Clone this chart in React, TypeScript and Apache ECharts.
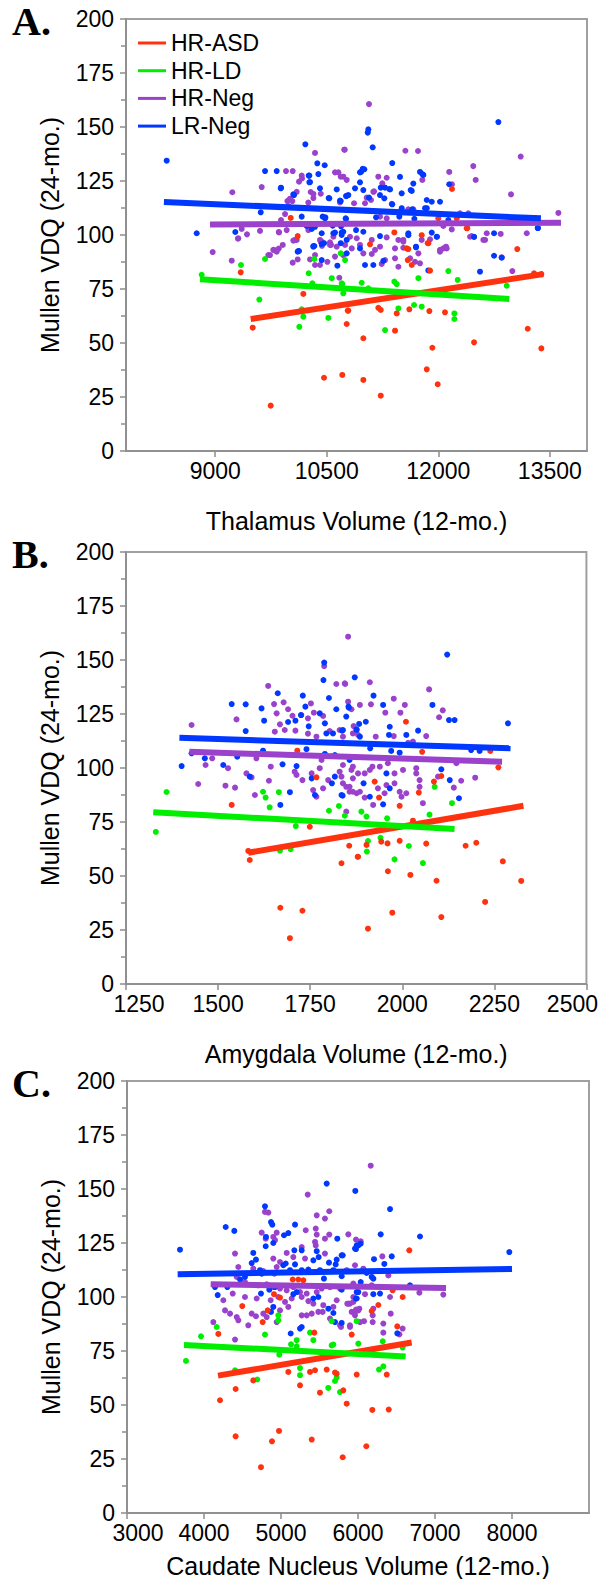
import React, { useEffect, useRef } from "react";
import * as echarts from "echarts";

const FONT = "'Liberation Sans', Arial, Helvetica, sans-serif";
const GROUPS = ["HR-ASD", "HR-LD", "HR-Neg", "LR-Neg"];
const COLORS = ["#ff3210", "#00ee00", "#9a42cc", "#0038ff"];
const Y_TICKS_MAX = 200;

// ---------- Panel A: Thalamus ----------
const aXTicks = [9000, 10500, 12000, 13500];
const aASD = [[10015,107.9],[10109,99.5],[9343,82.7],[10185,72.7],[9504,57.1],[10782,65],[10768,58.8],[10463,33.9],[10709,35.2],[9746,21],[12184,121.3],[13062,93.5],[13288,82.3],[13386,81.9],[12390,103.2],[12000,107.7],[12248,107.7],[11889,83.5],[11858,96.2],[11575,93.8],[11643,86.1],[11589,88.4],[11082,95.7],[11409,101.2],[10790,65],[10992,52.2],[11193,66.3],[11226,65.3],[11441,63.7],[11418,55.7],[11611,65.6],[11880,64.8],[12090,64.2],[11920,47.8],[11845,37.8],[11992,30.9],[12481,50.3],[13203,56.6],[13386,47.5],[10992,32.9],[11226,25.6],[12382,103.1],[11777,99.9],[11866,96.2],[11597,93.5]];
const aLD = [[9670,88.9],[10333,88.9],[10688,91.5],[9347,86.1],[8818,81.6],[10257,82.3],[10306,77.6],[10567,80],[10708,77.3],[10723,73],[9593,70.1],[10163,65.6],[10185,62.2],[10131,57.5],[10521,61.6],[12135,83.3],[12261,79.2],[11732,80],[11409,78.4],[11441,77.3],[10746,88.4],[10701,77.6],[10970,77.9],[11059,75.3],[11674,67.6],[11777,66.8],[11463,66],[11284,56],[12216,63.7],[12216,61.1],[12920,76.5]];
const aNeg = [[9952,129.6],[10042,129.6],[9230,119.8],[9625,122.2],[9970,115.7],[10006,116.8],[9427,100.3],[9306,98.3],[9602,101.9],[9854,101.4],[8966,92.1],[9795,93],[9854,93.7],[9908,95.4],[10342,138],[10741,139.5],[10167,126.2],[10611,129],[10656,129],[10688,127],[10284,119.9],[10320,117.1],[10419,119.1],[10037,115.7],[9983,113.4],[9939,109.7],[9885,106.9],[9310,98.5],[9356,102.8],[9858,101.2],[10050,97.4],[10096,97.7],[10409,97.7],[10436,95],[10544,96.6],[9222,88.1],[9737,90.7],[9781,93.1],[9827,92.3],[10042,87.2],[10109,88.7],[10275,88.7],[10342,90.7],[10342,86.1],[10409,86.1],[10508,87.6],[10419,96.9],[10557,95.4],[10669,80.2],[9714,90.7],[11068,160.6],[10736,139.5],[13108,136.3],[11557,139],[11727,138.9],[10723,127],[10768,125.5],[11306,126.5],[11193,127],[11247,123.9],[12470,131.9],[12503,125.5],[12147,129.2],[12184,123.5],[12978,118.8],[11785,125.5],[11126,120],[11037,117.3],[13615,110.2],[13190,100.8],[12996,83.3],[12652,100.8],[12629,97.7],[12427,99.2],[12481,99.2],[12839,100.5],[12068,93.8],[12104,94.6],[12023,92.3],[11463,97.7],[11530,97.7],[11530,94.1],[11732,91.5],[11754,86.9],[11687,87.6],[11620,89.2],[11284,88.4],[11239,86.6],[11418,89.2],[11463,85.3],[10992,91.5],[11105,91.2],[11216,94.6],[11149,93.1],[10903,98.5],[10813,99.2],[10836,93.8],[10746,95.4],[10634,94.6],[10589,99.2],[10723,90.7],[10611,90],[10127,124.7],[10163,127.5],[11136,120.2],[9992,116.2],[10096,120],[10320,119],[10252,115],[10678,115.1],[10867,114.7],[11014,114.7],[11095,116.2],[11216,108.5],[11306,107.7],[11374,114.4],[11597,111.9],[11664,111.9],[12292,110],[12404,110],[12181,102.6],[12068,104.2],[12023,93.1],[12113,93.8],[12606,97.7],[12853,89.7],[12449,99.5],[11889,98],[11777,97.7],[11530,96.9],[11418,93.8],[11306,98.9],[11105,97.7],[10947,95.4],[10544,95.4],[10432,96.9],[10073,97.7],[10252,102.3],[9961,102.3]];
const aLR = [[8347,134.4],[9670,129.6],[9827,129.6],[9885,121.9],[10050,118.8],[9612,110.5],[8751,100.8],[9270,101.4],[10109,92.3],[10212,142],[10373,133.2],[10472,132.3],[10257,127.5],[10275,124.5],[9881,121.6],[10409,121.6],[10759,118],[10634,121.1],[10526,117.1],[10060,118.5],[10163,108.5],[10230,104.2],[10342,103.8],[10445,108.5],[10481,108.2],[10580,104.3],[10692,104],[10755,107.7],[10320,94.9],[10463,96.2],[10589,100.8],[10701,100],[10768,97.7],[10127,92.6],[10333,94.9],[10432,95.8],[10432,88.4],[10643,85.8],[10688,96.2],[10768,91.5],[11059,148.9],[11051,147.4],[11118,140.6],[12808,152.3],[11381,133.3],[10961,129.2],[11005,130.4],[11754,129.2],[11785,128.2],[11485,126.9],[11664,123.8],[11643,120.4],[12147,123.5],[10880,121.6],[10992,120.8],[10790,118.5],[10678,115.9],[11216,118.5],[11341,121.3],[11284,121.9],[11845,116.2],[11912,115.4],[12023,115.4],[11822,112.4],[11651,111.9],[11508,112.4],[13341,103.2],[12750,90.4],[12853,89.5],[12561,83],[10701,101.1],[10947,93.8],[11014,86.1],[11261,88],[11126,86.1],[11700,94.6],[11597,100.8],[11979,99.2],[11866,83.6],[10266,127.5],[10266,124.4],[10387,128.2],[10947,129],[10983,130.6],[10947,124.4],[11799,127.8],[11629,120.8],[10534,117],[10688,115.7],[10773,118.2],[11068,117.3],[11226,121.9],[11351,121.1],[11274,117],[11381,114.2],[11508,119.3],[12135,106.9],[11845,112.4],[11678,107.5],[11476,108.5],[11163,108.2],[10759,107.4],[10477,107.7],[13337,103.2],[12750,100.8],[12481,99.1],[11982,99.2],[11912,101.1],[11700,94.3],[11597,99.9],[11216,99.5],[10992,101.5],[10894,102.3],[10723,101.5],[10611,101.1],[10432,100.8],[10298,102.8],[10118,92.6],[10320,94.6]];
const aFitASD = [[9477,61.1],[13413,81.9]];
const aFitLD = [[8795,79.5],[12955,70.4]];
const aFitNeg = [[8930,104.9],[13650,105.7]];
const aFitLR = [[8310,115.3],[13380,107.7]];

// ---------- Panel B: Amygdala ----------
const bASD = [[1537,82.9],[1715,108],[1767,95.7],[1749,72.8],[1582,61.6],[1586,57.4],[1856,64],[1835,55.9],[1879,58.9],[1669,35.3],[1729,33.9],[1695,21.2],[2010,121.4],[2054,107.5],[2239,107.9],[2261,100.3],[1925,93.7],[1937,86.3],[1993,82.5],[2045,88.6],[2086,93.7],[2106,96.3],[2029,75.6],[1903,64.4],[1943,65.9],[1960,65.1],[1993,66.3],[2065,65],[2172,64],[2201,65.4],[2273,56.8],[2323,47.7],[2225,38],[2106,31],[1973,33],[1907,25.6],[1961,52.2],[2022,50.5],[2093,47.8],[1880,58.9]];
const bLD = [[1360,88.9],[1331,70.4],[1622,89],[1629,86.3],[1640,81.8],[1665,88.8],[1801,80.2],[1828,82.4],[1844,77.9],[1711,73.1],[1668,61.7],[1697,62.4],[2088,91.3],[2135,83.7],[2074,78.4],[1959,76.7],[1889,79.8],[1903,77.5],[1907,66.2],[1941,67.7],[1904,61.3],[2018,63.9],[1979,57.7],[2056,56]];
const bNeg = [[1788,147.2],[1821,138.9],[1845,138.9],[1636,138],[1853,130.7],[1652,129.6],[1678,130.4],[1752,129.9],[1760,125.6],[1659,125.3],[1690,127.2],[1702,124.2],[1726,124.5],[1744,123],[1785,124.1],[1550,122.5],[1428,119.9],[1668,120.2],[1681,117.6],[1654,116.8],[1710,117.3],[1744,115.9],[1767,114.5],[1803,117.1],[1830,117.6],[1839,114.5],[1866,116],[1880,115.3],[1466,101.4],[1484,104.5],[1446,92.6],[1520,91.8],[1546,90.9],[1527,99.9],[1577,97.5],[1591,95.7],[1600,87.5],[1604,104.5],[1638,94.1],[1643,100.6],[1708,98.3],[1713,96.8],[1729,94.4],[1754,97.5],[1776,99.9],[1781,103.7],[1830,98.3],[1835,96],[1862,99.1],[1866,95.2],[1758,89.8],[1767,86.7],[1785,90.6],[1799,94.4],[1848,91.3],[1857,89],[1876,88.3],[1853,160.8],[1844,139.2],[1912,139.7],[2073,136.4],[1862,127.2],[1885,129.2],[1915,129.5],[1954,125.6],[1977,132.1],[1995,125.6],[2007,129.2],[2100,123.5],[2110,126.7],[1868,119.4],[1928,114.5],[1977,114.8],[2065,114.8],[2029,112.2],[2016,111.7],[1839,101.4],[1866,100.6],[1880,97.5],[1898,97.5],[1912,99.1],[1919,100.6],[1939,100.6],[1961,102.2],[1979,97.5],[2002,99.1],[2038,99.9],[2047,94.4],[2047,91.3],[2038,97.5],[2097,96],[2140,90.9],[2160,94.1],[2198,95.5],[2147,102.2],[1839,92.9],[1866,89],[1885,89],[1857,91.3],[1898,86.3],[1921,82.9],[1934,90.6],[1952,88.3],[1957,92.1],[1979,92.9],[1993,89],[1998,86.7],[2011,88.3],[2056,83.7],[1848,79.8]];
const bLR = [[1788,148.8],[1786,140.7],[1871,142],[1662,134.6],[1730,133.5],[1801,132.4],[1537,129.6],[1575,129.5],[1737,128.4],[1618,127.6],[1821,127.2],[1854,128.4],[1625,121.9],[1575,117.1],[1690,121.3],[1710,121.9],[1725,124.5],[1746,119.3],[1776,125.3],[1790,120.7],[1794,116],[1812,116],[1837,117.3],[1876,117.9],[1428,106.8],[1464,104.5],[1401,100.9],[1514,101.4],[1552,105.2],[1622,108],[1675,101.7],[1713,100.9],[1740,108.7],[1790,106.5],[1817,106],[1857,103.7],[1586,96],[1754,95.2],[1763,87.5],[1817,96],[1809,92.9],[1838,87.2],[1669,82.9],[1695,88.8],[2122,152.5],[1922,133.5],[1848,123.8],[1855,127.9],[1948,129.2],[2082,129.2],[2127,122.2],[2142,122.2],[2287,120.7],[1839,117.6],[1876,117.6],[1883,120.4],[1901,121.4],[1885,114.5],[1964,115.3],[2011,115.3],[2043,117.3],[1966,119.1],[1913,109.1],[1970,107.9],[1993,107.1],[2187,108.3],[2210,107.9],[1835,87.5],[1912,86.7],[1948,83.2],[1966,90.6],[1957,97.5],[2106,99.4],[2129,94.4],[2154,86],[1895,92.9]];
const bFitASD = [[1582,60.8],[2329,82.5]];
const bFitLD = [[1324,79.5],[2142,71.8]];
const bFitNeg = [[1422,107.5],[2271,102.9]];
const bFitLR = [[1395,114],[2294,109.1]];

// ---------- Panel C: Caudate ----------
const cASD = [[5152,108.1],[5225,108.1],[5290,107.7],[4909,101.3],[4987,99.7],[4827,93.8],[4762,88.4],[4497,95.8],[4186,82.9],[5433,83.5],[5918,82.6],[4411,57.4],[4208,52.2],[4640,61.4],[5095,65.3],[5247,59.1],[5377,65.3],[5442,66.1],[5593,66.4],[5701,65],[5723,64.5],[5506,55.7],[5809,56.8],[5853,50.6],[5983,64.1],[4974,38],[4883,33.2],[4411,35.5],[5399,34],[4740,21.2],[5801,25.8],[6666,121.6],[6450,103.1],[6580,100],[6264,96.3],[6178,93.5],[6510,86.4],[6186,47.7],[6399,47.9],[6373,64.1],[6108,30.9]];
const cLD = [[3961,81.8],[4165,86.1],[3766,70.4],[4792,82.6],[4965,91.5],[4965,89.2],[5130,78.1],[5204,80],[5204,77.2],[4978,73.3],[5420,80],[5377,83.5],[5658,77.6],[5680,78],[5658,88.8],[5983,88.8],[5247,67.1],[5247,63.8],[4692,61.8],[4403,66.1],[5701,61.1],[5723,62.7],[5614,57.9],[5766,56],[6004,78.4],[6321,79.5],[6580,76.6],[6273,66.4],[6329,67.9]];
const cNeg = [[5347,147.4],[4792,139.4],[4835,139.1],[5627,139.7],[5571,136.3],[5464,137.8],[4749,129.8],[4801,127],[4900,127.8],[4922,126.3],[4944,129.8],[5321,130.9],[5451,131.7],[5464,128.9],[5442,125.5],[5451,123.9],[5571,127],[5627,128.9],[5571,120.1],[4403,120.1],[4446,113.9],[5074,120.4],[5269,123.1],[5160,118.5],[5312,117.8],[4900,117.8],[4987,116.2],[4944,113.9],[4913,110.8],[4640,113.1],[4770,112],[4425,109.3],[4532,106.9],[4705,105.4],[4814,105.9],[4900,104.6],[4987,103.9],[5074,103.1],[5160,104.6],[5247,102.3],[5334,101.6],[5464,102.3],[5528,103.9],[5636,104.6],[5766,103.9],[5939,105.4],[4373,101.6],[4251,98.5],[4532,100],[4684,99.3],[4866,98.5],[4965,100],[5052,97.7],[5139,99.3],[5269,100],[5355,98.1],[5420,96.9],[5549,96.2],[5680,95.4],[5874,96.9],[5939,100],[4273,93.8],[4338,92.3],[4425,90.7],[4446,89.2],[4619,92.3],[4675,91.1],[4770,92.3],[4814,90.7],[4575,86.9],[4121,88.4],[4403,80.3],[4944,88.4],[4987,93.8],[5095,95.4],[5269,91.5],[5334,91.5],[5399,92.3],[5485,93.1],[5541,93.1],[5636,90],[5723,98.5],[5766,86.9],[5896,86.9],[5896,96.9],[5961,93.1],[6004,93.8],[6165,160.8],[5874,129],[5974,126.6],[6035,125.8],[6316,118.8],[5961,114.7],[6069,113.1],[5853,112.4],[6394,110],[5939,106.2],[6178,105.4],[6091,101.3],[6416,100],[6797,102],[7108,101.1],[5861,96.9],[5939,97.7],[5918,93.1],[5974,94.2],[6017,94.6],[5961,91.5],[6026,88.4],[6078,88.8],[6191,88.4],[6191,91.5],[6425,92.3],[6329,87.7],[6329,83.5],[6537,82.7],[6580,85.4],[5779,86.1],[5896,86.1],[6199,94.6]];
const cLR = [[5593,152.5],[5965,149.1],[4792,142],[4870,134.7],[4887,133.5],[4282,132.4],[4394,130.6],[4805,127.8],[4801,123.5],[4900,125],[5039,128.6],[5095,129.6],[5182,133.5],[5269,121.6],[5173,121.6],[5731,127],[5983,123.9],[5961,122.4],[5788,119.3],[5723,117.3],[5623,115.9],[5710,115.1],[5489,118.5],[5464,121.2],[3688,121.9],[4640,120.4],[4675,117.3],[4619,115.7],[4727,112.4],[4468,108.1],[4532,109.3],[4749,110.8],[5030,114.7],[5061,115.5],[5182,115.1],[5117,112.4],[5269,112.4],[5355,112.7],[5420,117],[5506,112.4],[5558,108.5],[5680,112.4],[5788,109.6],[4143,104.6],[4303,104.6],[4178,100.9],[4740,101.6],[4848,103.4],[4922,104.6],[5160,101.3],[5204,102.3],[5420,99.3],[5485,100],[5615,94.6],[5680,92.6],[5788,88],[5701,88.4],[4900,95.4],[4870,93.1],[5269,86.1],[5247,85.4],[5126,83.1],[5983,102.3],[5974,99.3],[6416,140.7],[6295,129],[6805,128],[5974,122.2],[6004,123.9],[6035,124.7],[7965,120.8],[5801,119.3],[6208,117.5],[6438,118.8],[6342,115.3],[6113,111.1],[6178,109.3],[6199,108.5],[6035,106.9],[5788,103.4],[6004,102.3],[6199,101.3],[6286,101.6],[6675,105.4],[5983,99.3],[6510,83.2]];
const cFitASD = [[4182,63.6],[6697,78.9]];
const cFitLD = [[3740,77.8],[6619,72.5]];
const cFitNeg = [[4087,105.9],[7143,104.2]];
const cFitLR = [[3658,110.5],[8000,113]];

const PANELS = [
  {
    letter: "A.", top: 19, left: 126, width: 461, xMin: 7800, xMax: 14000, xInterval: null, xTicks: aXTicks,
    xName: "Thalamus Volume (12-mo.)", nameGap: 57,
    points: [aASD, aLD, aNeg, aLR], fits: [aFitASD, aFitLD, aFitNeg, aFitLR],
    shift: {},
  },
  {
    letter: "B.", top: 552, left: 126, width: 461, xMin: 1250, xMax: 2500, xInterval: 250, xTicks: null,
    xName: "Amygdala Volume (12-mo.)", nameGap: 57,
    points: [bASD, bLD, bNeg, bLR], fits: [bFitASD, bFitLD, bFitNeg, bFitLR],
    shift: { 1250: "l", 2500: "r" },
  },
  {
    letter: "C.", top: 1081, left: 127, width: 462, xMin: 3000, xMax: 9000, xInterval: 1000, xTicks: null,
    xName: "Caudate Nucleus Volume (12-mo.)", nameGap: 40,
    points: [cASD, cLD, cNeg, cLR], fits: [cFitASD, cFitLD, cFitNeg, cFitLR],
    shift: { 3000: "l2" },
  },
];

const AXIS_GRAY = "#8c8c8c";

function buildOption() {
  const grid: any[] = [];
  const xAxis: any[] = [];
  const yAxis: any[] = [];
  const series: any[] = [];
  const graphic: any[] = [];
  const labelBase = { fontSize: 23, color: "#000", fontFamily: FONT };

  PANELS.forEach((p, i) => {
    grid.push({
      left: p.left, top: p.top, width: p.width, height: 432,
      show: true, borderColor: "#a0a0a0", borderWidth: 2, backgroundColor: "transparent",
    });
    const xa: any = {
      type: "value", gridIndex: i, min: p.xMin, max: p.xMax,
      name: p.xName, nameLocation: "middle", nameGap: p.nameGap,
      nameTextStyle: { fontSize: 25, color: "#000", fontFamily: FONT },
      axisLine: { show: true, onZero: false, lineStyle: { color: AXIS_GRAY, width: 1.5 } },
      axisTick: { show: true, length: 6, lineStyle: { color: AXIS_GRAY, width: 1.5 } },
      splitLine: { show: false },
      axisLabel: {
        ...labelBase, margin: 8, showMinLabel: true, showMaxLabel: i !== 2,
        formatter: (v: number) => (p.shift[v] ? `{${p.shift[v]}|${v}}` : String(v)),
        rich: {
          l: { ...labelBase, padding: [0, 0, 0, 26] },
          r: { ...labelBase, padding: [0, 28, 0, 0] },
          l2: { ...labelBase, padding: [0, 0, 0, 22] },
        },
      },
    };
    if (p.xInterval) xa.interval = p.xInterval;
    if (p.xTicks) {
      xa.axisLabel.customValues = p.xTicks;
      xa.axisTick.customValues = p.xTicks;
    }
    xAxis.push(xa);
    yAxis.push({
      type: "value", gridIndex: i, min: 0, max: Y_TICKS_MAX, interval: 25,
      name: "Mullen VDQ (24-mo.)", nameLocation: "middle", nameGap: 64,
      nameTextStyle: { fontSize: 25, color: "#000", fontFamily: FONT },
      axisLine: { show: true, onZero: false, lineStyle: { color: AXIS_GRAY, width: 1.5 } },
      axisTick: { show: true, length: 6, lineStyle: { color: AXIS_GRAY, width: 1.5 } },
      minorTick: { show: true, splitNumber: 2, length: 5, lineStyle: { color: AXIS_GRAY, width: 1.5 } },
      splitLine: { show: false },
      minorSplitLine: { show: false },
      axisLabel: { ...labelBase, margin: 12 },
    });

    const scatterOrder = [2, 3, 1, 0];
    scatterOrder.forEach((g) => {
      series.push({
        type: "scatter", name: GROUPS[g], xAxisIndex: i, yAxisIndex: i,
        data: p.points[g], symbolSize: 6, silent: true,
        itemStyle: { color: COLORS[g], opacity: 1 },
      });
    });
    [0, 1, 2, 3].forEach((g) => {
      series.push({
        type: "line", name: GROUPS[g], xAxisIndex: i, yAxisIndex: i,
        data: p.fits[g], symbol: "none", silent: true, z: 5,
        lineStyle: { color: COLORS[g], width: 6, cap: "butt" },
        itemStyle: { color: COLORS[g] },
      });
    });

    graphic.push({
      type: "text", left: 12, top: p.top - 18,
      style: { text: p.letter, font: "bold 40px 'Liberation Serif', 'Times New Roman', serif", fill: "#000" },
    });
  });

  return {
    animation: false,
    backgroundColor: "#fff",
    grid, xAxis, yAxis, series, graphic,
    legend: {
      left: 138, top: 31, orient: "vertical", padding: 0, itemGap: 3.7,
      itemWidth: 28, itemHeight: 3, icon: "rect", selectedMode: false,
      textStyle: { fontSize: 23, fontFamily: FONT, color: "#000", lineHeight: 24 },
      data: GROUPS.map((g, k) => ({ name: g, itemStyle: { color: COLORS[k] } })),
    },
  };
}

export default function App() {
  const ref = useRef<HTMLDivElement>(null);
  useEffect(() => {
    if (!ref.current) return;
    const chart = echarts.init(ref.current, null, { renderer: "svg" });
    chart.setOption(buildOption() as any);
    return () => chart.dispose();
  }, []);
  return (
    <div
      ref={ref}
      style={{ position: "absolute", left: 0, top: 0, width: 601, height: 1579, background: "#fff" }}
    />
  );
}
